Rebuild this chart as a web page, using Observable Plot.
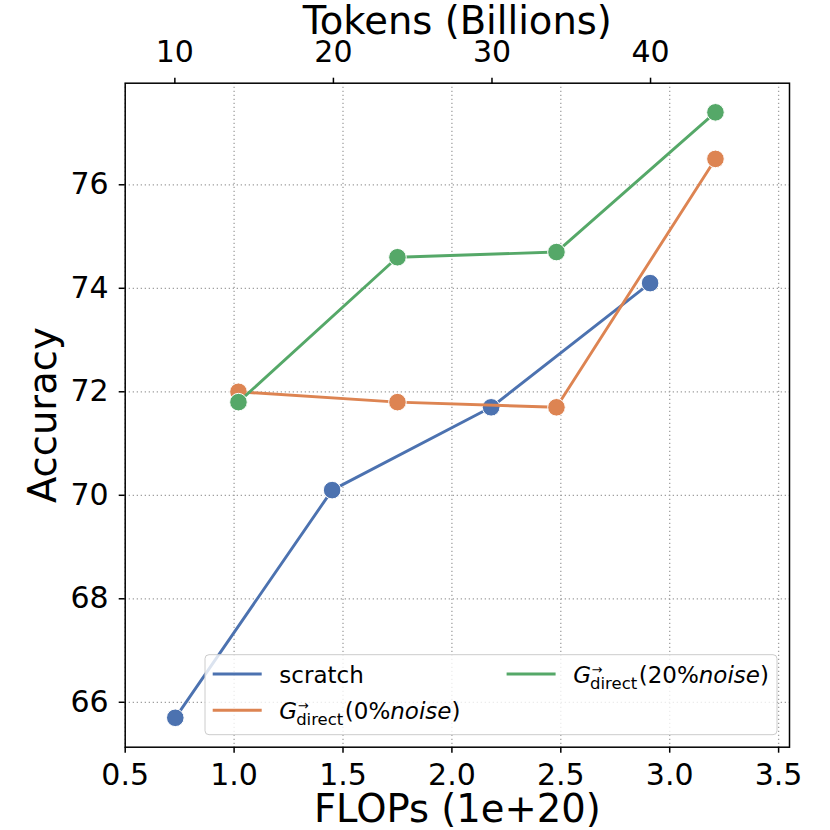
<!DOCTYPE html>
<html><head><meta charset="utf-8">
<script src="https://cdn.jsdelivr.net/npm/d3@7"></script>
<script src="https://cdn.jsdelivr.net/npm/@observablehq/plot@0.6"></script>
<style>html,body{margin:0;padding:0;background:#fff;overflow:hidden}</style>
</head><body><div id="chart"></div>
<script>
// ---- data ----
const flopsScratch = [0.73, 1.45, 2.18, 2.91];
const accScratch   = [65.7, 70.1, 71.7, 74.1];
const flopsDirect  = [1.02, 1.75, 2.48, 3.21];
const accNoise0    = [72.0, 71.8, 71.7, 76.5];
const accNoise20   = [71.8, 74.6, 74.7, 77.4];
const seriesKeys   = ["scratch", "noise0", "noise20"];
const noiseLevels  = [null, 0, 20];
const colors       = ["#4C72B0", "#DD8452", "#55A868"];
const xTicks       = [0.5, 1.0, 1.5, 2.0, 2.5, 3.0, 3.5];
const yTicks       = [66, 68, 70, 72, 74, 76];
const tokenTicks   = [10, 20, 30, 40];
const flopsPerBillionTokens = 0.0728;

const seriesX = [flopsScratch, flopsDirect, flopsDirect];
const seriesY = [accScratch, accNoise0, accNoise20];
const series = seriesKeys.map((k, i) => seriesX[i].map((x, j) => ({series: k, x, y: seriesY[i][j]})));

const gridStyle = {stroke: "#a0a0a0", strokeOpacity: 1, strokeWidth: 1.3, strokeDasharray: "1.3,2.7"};
const tickFont = 30;
const marks = [
  Plot.gridX(xTicks, gridStyle),
  Plot.gridY(yTicks, gridStyle)
];
series.forEach((rows, i) => {
  marks.push(Plot.line(rows, {x: "x", y: "y", stroke: colors[i], strokeWidth: 2.9}));
  marks.push(Plot.dot(rows, {x: "x", y: "y", r: 8.8, fill: colors[i], stroke: "white", strokeWidth: 1}));
});
marks.push(
  Plot.axisX({anchor: "bottom", ticks: xTicks, tickFormat: d3.format(".1f"), tickSize: 6, tickPadding: 10.5, strokeWidth: 1.5, fontSize: tickFont, label: null}),
  Plot.axisX({anchor: "top", ticks: tokenTicks.map(t => t * flopsPerBillionTokens), tickFormat: d => String(Math.round(d / flopsPerBillionTokens)), tickSize: 6, tickPadding: 15, strokeWidth: 1.5, fontSize: tickFont, label: null}),
  Plot.axisY({anchor: "left", ticks: yTicks, tickFormat: d3.format("d"), tickSize: 6, tickPadding: 10.5, strokeWidth: 1.5, fontSize: tickFont, label: null}),
  Plot.text(["FLOPs (1e+20)"], {frameAnchor: "bottom", textAnchor: "middle", lineAnchor: "middle", dy: 62.5, fontSize: 38.5, fill: "black"}),
  Plot.text(["Tokens (Billions)"], {frameAnchor: "top", textAnchor: "middle", lineAnchor: "middle", dy: -62, fontSize: 38.5, fill: "black"}),
  Plot.text(["Accuracy"], {frameAnchor: "left", textAnchor: "middle", lineAnchor: "middle", rotate: -90, dx: -81.5, fontSize: 38.5, fill: "black"}),
  Plot.frame({stroke: "black", strokeWidth: 1.5})
);

const chart = Plot.plot({
  width: 830, height: 830,
  marginLeft: 124.7, marginRight: 41, marginTop: 82.7, marginBottom: 83.3,
  x: {domain: [0.5, 3.55]},
  y: {domain: [65.132, 77.963]},
  style: {fontFamily: "DejaVu Sans", fontSize: "30px", color: "black", background: "white"},
  marks
});
document.getElementById("chart").appendChild(chart);

// ---- legend ----
const svg = d3.select(chart);
const lg = svg.append("g").attr("font-family", "DejaVu Sans").attr("fill", "black").attr("text-anchor", "start");
lg.append("rect").attr("x", 205).attr("y", 654.7).attr("width", 572).attr("height", 80).attr("rx", 4)
  .attr("fill", "white").attr("fill-opacity", 0.8).attr("stroke", "#cccccc").attr("stroke-width", 1);
const entryPos = [[212.7, 674], [212.7, 710.3], [506.6, 674]];
const legendFont = 23;
function richLabel(g, x, base, noise) {
  const G = g.append("text").attr("x", x).attr("y", base).attr("font-size", legendFont).attr("font-style", "italic").text("G");
  const gw = G.node().getComputedTextLength();
  g.append("text").attr("x", x + gw + 0.5).attr("y", base - 9).attr("font-size", 13).text("\u2192");
  const sub = g.append("text").attr("x", x + gw - 1).attr("y", base + 6).attr("font-size", 16.5).text("direct");
  const sw = sub.node().getComputedTextLength();
  const rest = g.append("text").attr("x", x + gw - 1 + sw + 1.5).attr("y", base).attr("font-size", legendFont);
  rest.append("tspan").text(`(${noise}%`);
  rest.append("tspan").attr("font-style", "italic").text("noise");
  rest.append("tspan").text(")");
}
seriesKeys.forEach((k, i) => {
  const [lx, ly] = entryPos[i];
  lg.append("line").attr("x1", lx).attr("x2", lx + 49).attr("y1", ly).attr("y2", ly)
    .attr("stroke", colors[i]).attr("stroke-width", 2.9);
  const tx = lx + 66.6, base = ly + 9;
  if (noiseLevels[i] === null) {
    lg.append("text").attr("x", tx).attr("y", base).attr("font-size", legendFont).text(k);
  } else {
    richLabel(lg, tx, base, noiseLevels[i]);
  }
});
</script>
</body></html>
